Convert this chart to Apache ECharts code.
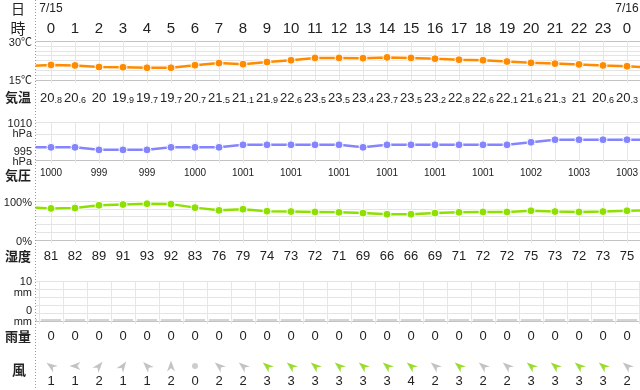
<!DOCTYPE html>
<html><head><meta charset="utf-8">
<script src="https://cdn.jsdelivr.net/npm/echarts@6/dist/echarts.min.js"></script>
<style>html,body{margin:0;padding:0;background:#fff}#c{width:640px;height:390px}</style>
</head><body><div id="c"></div>
<script>
// ---- data ----
const hours = [0,1,2,3,4,5,6,7,8,9,10,11,12,13,14,15,16,17,18,19,20,21,22,23,0];
const dateLabels = ['7/15','','','','','','','','','','','','','','','','','','','','','','','','7/16'];
const temperature = [20.8,20.6,20,19.9,19.7,19.7,20.7,21.5,21.1,21.9,22.6,23.5,23.5,23.4,23.7,23.5,23.2,22.8,22.6,22.1,21.6,21.3,21,20.6,20.3];
const temperatureOutside = [20.4, 19.8];   // hour before / after the window (line runs off the edges)
const pressure = [1000,1000,999,999,999,1000,1000,1000,1001,1001,1001,1001,1001,1000,1001,1001,1001,1001,1001,1001,1002,1003,1003,1003,1003];
const pressureOutside = [1000, 1003];
const humidity = [81,82,89,91,93,92,83,76,79,74,73,72,71,69,66,66,69,71,72,72,75,73,72,73,75];
const humidityOutside = [84, 76];
const rain = [0,0,0,0,0,0,0,0,0,0,0,0,0,0,0,0,0,0,0,0,0,0,0,0,0];
const windSpeed = [1,1,2,1,1,2,0,2,2,3,3,3,3,3,3,4,2,3,2,2,3,3,3,3,2];
const windArrowAngle = [55,90,-40,-35,45,0,0,50,50,50,50,50,50,50,50,50,50,50,50,50,50,50,50,50,50];
const tempTicks = ['15℃','30℃'];

// ---- helpers ----
const FONT = '"Liberation Sans", Arial, "Noto Sans CJK JP", sans-serif';
const JFONT = '"Noto Sans CJK JP", sans-serif';
const NSLOT = hours.length + 2;
const slots = Array.from({length: NSLOT}, (_, i) => i);
const withEdges = (arr, edge) => [edge[0], ...arr, edge[1]];
const col = i => i - 1;
const inRange = c => c >= 0 && c < hours.length;

const GL = '#e4e4e4', GV = '#e6e6e6', GB = '#c2c2c2';
const LEFT = 27, WIDTH = 624;

function bottomAxis(gridIndex, margin, fontSize, formatter, extra) {
  return Object.assign({
    type: 'category', gridIndex, data: slots, position: 'bottom', boundaryGap: false,
    axisLine: {show: true, lineStyle: {color: GB, width: 1}},
    axisTick: {show: true, length: 3, interval: 0, lineStyle: {color: GV}},
    splitLine: {show: true, interval: 0, lineStyle: {color: GV}},
    axisLabel: {interval: 0, margin, fontSize, color: '#222', verticalAlign: 'middle', fontFamily: FONT, formatter}
  }, extra || {});
}
function gridY(gridIndex, min, max, interval, colors) {
  return {type: 'value', gridIndex, min, max, interval, position: 'left',
    axisLine: {show: false}, axisTick: {show: false}, axisLabel: {show: false},
    splitLine: {show: true, lineStyle: {color: colors || GL}}};
}
const richL = (lh) => ({
  n: {fontSize: 11, lineHeight: lh, color: '#222', fontFamily: FONT, align: 'right'},
  s2: {lineHeight: 2}, s4: {lineHeight: 4}, s6: {lineHeight: 6}, s9: {lineHeight: 9}, s13: {lineHeight: 13}, s14: {lineHeight: 14}
});
function labelY(gridIndex, min, max, interval, margin, formatter, lh) {
  return {type: 'value', gridIndex, min, max, interval, z: 60, position: 'left',
    axisLine: {show: false}, axisTick: {show: false}, splitLine: {show: false},
    axisLabel: {show: true, margin, fontSize: 11, color: '#222', fontFamily: FONT, formatter, rich: richL(lh)}};
}
const near = (a, b) => Math.abs(a - b) < 1e-6;

const tempFormatter = (v, i) => {
  const c = col(i); if (!inRange(c)) return '';
  const s = String(temperature[c]);
  const p = s.split('.');
  return p.length > 1 ? '{a|' + p[0] + '}{b|.' + p[1] + '}' : '{a|' + p[0] + '}';
};

const windData = windSpeed.map((s, c) => {
  const color = s >= 3 ? '#7fd400' : '#b4b4b4';
  if (s === 0) return {value: [c + 1, 0.5], symbol: 'circle', symbolSize: 6, itemStyle: {color: '#c0c0c0'}};
  return {value: [c + 1, 0.5], symbol: 'path://M5,0L10,14L5,10L0,14Z', symbolSize: [8, 11],
    symbolRotate: windArrowAngle[c], itemStyle: {color}};
});

const lineSeries = (name, xi, yi, data, color) => [{
  name: name + '-halo', type: 'line', xAxisIndex: xi, yAxisIndex: yi, data, clip: true,
  symbol: 'none', silent: true, z: 2, lineStyle: {color: 'rgba(255,255,255,0.85)', width: 5}
}, {
  name, type: 'line', xAxisIndex: xi, yAxisIndex: yi, data, clip: true,
  symbol: 'circle', symbolSize: 8, showAllSymbol: true, silent: true, z: 3,
  lineStyle: {color, width: 2.5},
  itemStyle: {color, borderColor: '#fff', borderWidth: 1}
}];

const G = (left, width, top, height) => ({left, width, top, height, outerBoundsMode: 'none', containLabel: false});

const chart = echarts.init(document.getElementById('c'), null, {renderer: 'canvas'});
chart.setOption({
  animation: false,
  textStyle: {fontFamily: FONT},
  grid: [
    G(LEFT, WIDTH, 41, 39),
    G(LEFT, WIDTH, 122, 38),
    G(LEFT, WIDTH, 201, 39),
    G(LEFT - 12, WIDTH + 24, 281, 40),
    G(LEFT, WIDTH, 356, 20)
  ],
  xAxis: [
    bottomAxis(0, 17, 13, tempFormatter, {axisLabel: {interval: 0, margin: 17, color: '#222', verticalAlign: 'middle', formatter: tempFormatter,
      rich: {a: {fontSize: 13, fontFamily: FONT, color: '#222', verticalAlign: 'bottom', lineHeight: 16},
             b: {fontSize: 9, fontFamily: FONT, color: '#222', verticalAlign: 'bottom', lineHeight: 16}}}}),
    {type: 'category', gridIndex: 0, data: slots, position: 'top', boundaryGap: false,
      axisLine: {show: false}, axisTick: {show: false}, splitLine: {show: false},
      axisLabel: {interval: 0, margin: 12, fontSize: 15, color: '#222', verticalAlign: 'middle', fontFamily: FONT,
        formatter: (v, i) => inRange(col(i)) ? String(hours[col(i)]) : ''}},
    {type: 'category', gridIndex: 0, data: slots, position: 'top', boundaryGap: false,
      axisLine: {show: false}, axisTick: {show: false}, splitLine: {show: false},
      axisLabel: {interval: 0, margin: 32, fontSize: 12, color: '#222', verticalAlign: 'middle', fontFamily: FONT,
        formatter: (v, i) => inRange(col(i)) ? dateLabels[col(i)] : ''}},
    bottomAxis(1, 13, 10, (v, i) => { const c = col(i); return inRange(c) && c % 2 === 0 ? String(pressure[c]) : ''; }),
    bottomAxis(2, 16, 13, (v, i) => { const c = col(i); return inRange(c) ? String(humidity[c]) : ''; }),
    bottomAxis(3, 15, 13, (v, i) => { const c = col(i); return inRange(c) ? String(rain[c]) : ''; }, {boundaryGap: true}),
    {type: 'category', gridIndex: 4, data: slots, position: 'bottom', boundaryGap: false,
      axisLine: {show: false}, axisTick: {show: false}, splitLine: {show: false},
      axisLabel: {interval: 0, margin: 5, fontSize: 13, color: '#222', verticalAlign: 'middle', fontFamily: FONT,
        formatter: (v, i) => inRange(col(i)) ? String(windSpeed[col(i)]) : ''}}
  ],
  yAxis: [
    gridY(0, 15, 30, 1.875, [GL, GL, GL, GL, GL, GL, GL, GL, GB]),
    labelY(0, 15, 30, 1.875, -5, v => near(v, 15) ? '{s2|}\n{n|' + tempTicks[0] + '}' : near(v, 30) ? '{s4|}\n{n|' + tempTicks[1] + '}' : '', 12),
    gridY(1, 995, 1010, 5, [GB, 'rgba(0,0,0,0)', GL, GL]),
    labelY(1, 995, 1010, 5, -5,
      v => v === 1010 ? '{s14|}\n{n|1010}\n{n|hPa}' : v === 995 ? '{n|995}\n{n|hPa}\n{s6|}' : '', 10),
    gridY(2, 0, 100, 20),
    labelY(2, 0, 100, 20, -5, v => v === 100 ? '{s4|}\n{n|100%}' : v === 0 ? '{s4|}\n{n|0%}' : '', 12),
    gridY(3, 0, 10, 2),
    labelY(3, 0, 10, 2, -17,
      v => v === 10 ? '{s13|}\n{n|10}\n{n|mm}' : v === 0 ? '{n|0}\n{n|mm}\n{s9|}' : '', 11),
    {type: 'value', gridIndex: 4, min: 0, max: 1, show: false}
  ],
  series: [
    ...lineSeries('気温', 0, 0, withEdges(temperature, temperatureOutside), '#ff8c00'),
    ...lineSeries('気圧', 3, 2, withEdges(pressure, pressureOutside), '#8484ff'),
    ...lineSeries('湿度', 4, 4, withEdges(humidity, humidityOutside), '#8ee000'),
    {name: '雨量', type: 'bar', xAxisIndex: 5, yAxisIndex: 6, data: [0, ...rain, 0], barWidth: 20, barMinHeight: 2,
      itemStyle: {color: '#d4d4d4'}, silent: true},
    {name: '風', type: 'scatter', xAxisIndex: 6, yAxisIndex: 8, data: windData, silent: true, z: 3}
  ],
  graphic: [
    {type: 'rect', shape: {x: 0, y: 0, width: 35.5, height: 390}, style: {fill: '#fff'}, z: 50, silent: true},
    {type: 'line', shape: {x1: 35.5, y1: 0, x2: 35.5, y2: 390}, style: {stroke: '#999', lineWidth: 1, lineDash: [1, 2]}, z: 55, silent: true},
    ...[['日', 18, 9, 14, 'normal'], ['時', 18, 28, 15, 'normal'], ['気温', 18, 97, 13, 'bold'], ['気圧', 18, 175, 13, 'bold'],
        ['湿度', 18, 256, 13, 'bold'], ['雨量', 18, 336, 13, 'bold'], ['風', 19, 370, 14, 'bold']].map(([t, x, y, fs, fw]) => ({
      type: 'text', x, y, z: 70, silent: true,
      style: {text: t, fontSize: fs, fontWeight: fw, fontFamily: JFONT, fill: '#222',
        align: 'center', verticalAlign: 'middle', textAlign: 'center', textVerticalAlign: 'middle'}
    }))
  ]
});
</script></body></html>
